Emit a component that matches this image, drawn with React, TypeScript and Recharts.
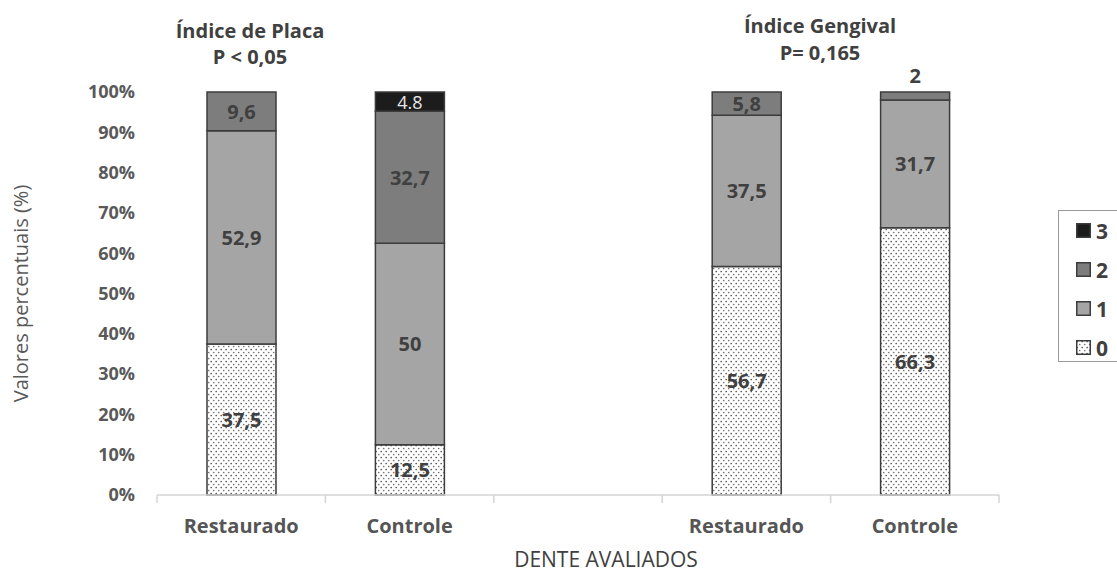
import React from 'react';
import {
  BarChart,
  Bar,
  XAxis,
  YAxis,
  LabelList
} from 'recharts';

// categorias do eixo X (a do meio fica vazia para separar os dois índices)
const categorias = ['Restaurado', 'Controle', '', 'Restaurado', 'Controle'];

// escores em percentual
const escore0 = [37.5, 12.5, 0, 56.7, 66.3];
const escore1 = [52.9, 50, 0, 37.5, 31.7];
const escore2 = [9.6, 32.7, 0, 5.8, 2];
const escore3 = [0, 4.8, 0, 0, 0];

const yTicks = [0, 10, 20, 30, 40, 50, 60, 70, 80, 90, 100];
const legendaNomes = ['0', '1', '2', '3'];

const dados = categorias.map((cat, i) => ({
  cat,
  e0: escore0[i],
  e1: escore1[i],
  e2: escore2[i],
  e3: escore3[i]
}));

const W = 1117;
const H = 573;
const FONT = '"Open Sans", "DejaVu Sans", sans-serif';
const TXT = '#404040';
const BORDA = '#3c3c3c';

const cores: Record<string, string> = {
  e0: 'url(#pontilhado)',
  e1: '#a5a5a5',
  e2: '#7d7d7d',
  e3: '#1c1c1c'
};

const rotulo = (serie: number) => (props: any) => {
  const vb = props.viewBox || props;
  const { x, y, width, height } = vb;
  const value = props.value;
  if (!value) return null;
  const txt = serie === 3 ? String(value) : String(value).replace('.', ',');
  const pequeno = height < 12 && serie !== 3;
  const cy = pequeno ? y - 17 : y + height / 2;
  return (
    <text
      x={x + width / 2}
      y={cy}
      textAnchor="middle"
      dominantBaseline="central"
      fontFamily={FONT}
      fontSize={serie === 3 ? 18 : 20}
      fontWeight={serie === 3 ? 400 : 700}
      fill={serie === 3 ? '#e6e6e6' : TXT}
    >
      {txt}
    </text>
  );
};

const TickX = (props: any) => {
  const { x, y, payload, index } = props;
  const meio = payload.offset || 84;
  return (
    <g>
      <line x1={x - meio} y1={y} x2={x - meio} y2={y + 8} stroke="#d4d4d4" strokeWidth={1.5} />
      {index === categorias.length - 1 && (
        <line x1={x + meio} y1={y} x2={x + meio} y2={y + 8} stroke="#d4d4d4" strokeWidth={1.5} />
      )}
      <text
        x={x}
        y={y + 30}
        textAnchor="middle"
        dominantBaseline="central"
        fontFamily={FONT}
        fontSize={20}
        fontWeight={700}
        fill="#555"
      >
        {payload.value}
      </text>
    </g>
  );
};

const Legenda = () => {
  const itens = [...legendaNomes].reverse();
  return (
    <div
      style={{
        position: 'absolute',
        left: 1058,
        top: 210,
        border: '1.5px solid #9a9a9a',
        borderRight: 'none',
        width: 70,
        height: 152,
        boxSizing: 'border-box'
      }}
    >
      {itens.map((n) => (
        <div key={n} style={{ display: 'flex', alignItems: 'center', height: 39, paddingLeft: 17 }}>
          <svg width={15} height={15} style={{ marginRight: 5 }}>
            <rect x={0.75} y={0.75} width={13.5} height={13.5} fill={cores['e' + n]} stroke={BORDA} strokeWidth={1.5} />
          </svg>
          <span style={{ fontFamily: FONT, fontWeight: 700, fontSize: 21, color: TXT }}>{n}</span>
        </div>
      ))}
    </div>
  );
};

const titulo = (linhas: string[], cx: number, top: number, lh: number) => (
  <div
    style={{
      position: 'absolute',
      left: cx - 150,
      top,
      width: 300,
      textAlign: 'center',
      fontFamily: FONT,
      fontWeight: 700,
      fontSize: 20,
      lineHeight: lh + 'px',
      color: TXT
    }}
  >
    {linhas.map((l) => (
      <div key={l}>{l}</div>
    ))}
  </div>
);

export default function App() {
  return (
    <div style={{ position: 'absolute', left: 0, top: 0, width: W, height: H, background: '#fff', overflow: 'hidden' }}>
      <BarChart
        width={W}
        height={H}
        data={dados}
        margin={{ top: 92, right: 118, bottom: 8, left: 0 }}
        barSize={69}
      >
        <defs>
          <pattern id="pontilhado" patternUnits="userSpaceOnUse" width={5} height={6}>
            <rect width={5} height={6} fill="#fff" />
            <circle cx={1.2} cy={1.5} r={0.85} fill="#555" />
            <circle cx={3.7} cy={4.5} r={0.85} fill="#777" />
          </pattern>
        </defs>
        <XAxis
          dataKey="cat"
          height={70}
          axisLine={{ stroke: '#d4d4d4', strokeWidth: 1.5 }}
          tickLine={false}
          tickSize={0}
          tickMargin={0}
          interval={0}
          tick={<TickX />}
          label={{
            content: ({ viewBox }: any) => (
              <text
                x={viewBox.x + viewBox.width / 2 + 28}
                y={viewBox.y + viewBox.height - 6}
                textAnchor="middle"
                dominantBaseline="central"
                fontFamily={FONT}
                fontSize={21}
                fill={TXT}
              >
                DENTE AVALIADOS
              </text>
            )
          }}
        />
        <YAxis
          width={157}
          domain={[0, 100]}
          ticks={yTicks}
          tickFormatter={(v) => v + '%'}
          axisLine={false}
          tickLine={false}
          tickSize={0}
          tickMargin={22}
          tick={{ fontFamily: FONT, fontSize: 18, fontWeight: 700, fill: '#595959' }}
          label={{
            content: ({ viewBox }: any) => {
              const cy = viewBox.y + viewBox.height / 2;
              return (
                <text
                  x={20}
                  y={cy}
                  transform={`rotate(-90, 20, ${cy})`}
                  textAnchor="middle"
                  dominantBaseline="central"
                  fontFamily={FONT}
                  fontSize={20}
                  fill="#595959"
                >
                  Valores percentuais (%)
                </text>
              );
            }
          }}
        />
        {['e0', 'e1', 'e2', 'e3'].map((k, i) => (
          <Bar
            key={k}
            dataKey={k}
            name={legendaNomes[i]}
            stackId="a"
            fill={cores[k]}
            stroke={BORDA}
            strokeWidth={1.5}
            isAnimationActive={false}
          >
            <LabelList dataKey={k} content={rotulo(i)} />
          </Bar>
        ))}
      </BarChart>
      <Legenda />
      {titulo(['Índice de Placa', 'P < 0,05'], 250, 18, 26)}
      {titulo(['Índice Gengival', 'P= 0,165'], 820, 12, 27)}
    </div>
  );
}
